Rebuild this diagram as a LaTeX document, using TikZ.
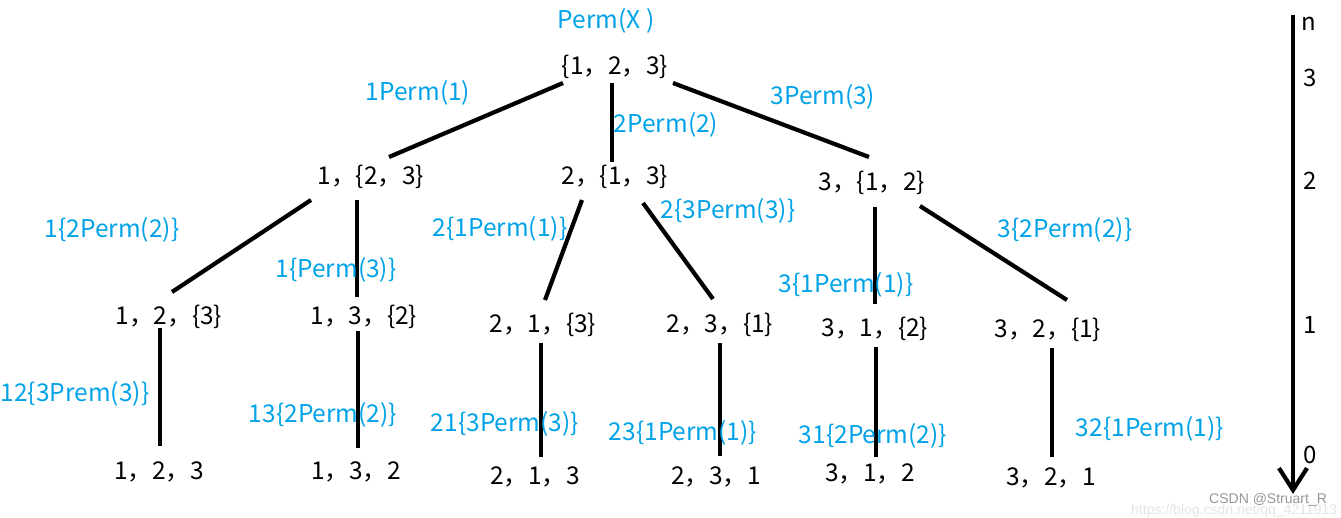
\documentclass[tikz,border=0pt]{standalone}
\usepackage{fontspec}
\setmainfont{Noto Sans CJK SC}
\newfontfamily\wmfont{Liberation Sans}
\usetikzlibrary{calc,arrows.meta}
\definecolor{lblue}{RGB}{0,162,232}
\definecolor{wmgray}{RGB}{150,150,150}
\definecolor{wmlight}{RGB}{228,228,228}
\tikzset{
  st/.style={inner sep=0pt, font=\fontsize{24.5}{26}\selectfont, text=black},
  lb/.style={inner sep=0pt, font=\fontsize{24.5}{26}\selectfont, text=lblue},
  ax/.style={inner sep=0pt, font=\fontsize{24}{26}\selectfont, text=black},
  edge/.style={line width=4.2pt, black, line cap=butt},
}
\begin{document}
\begin{tikzpicture}[x=1pt,y=-1pt]
\useasboundingbox (0,0) rectangle (1341,517);
% title
\node[lb] (title) at (606,21) {Perm(X )};
% states
\node[st] (r) at (615,67) {\{1，2，3\}};
\node[st] (a) at (371,177) {1，\{2，3\}};
\node[st] (b) at (615,177) {2，\{1，3\}};
\node[st] (c) at (872,183) {3，\{1，2\}};
\node[st] (aa) at (169,317) {1，2，\{3\}};
\node[st] (ab) at (364,317) {1，3，\{2\}};
\node[st] (ba) at (543,325) {2，1，\{3\}};
\node[st] (bb) at (720,325) {2，3，\{1\}};
\node[st] (ca) at (875,329) {3，1，\{2\}};
\node[st] (cb) at (1048,330) {3，2，\{1\}};
\node[st] (aaa) at (159,472) {1，2，3};
\node[st] (aba) at (356,472) {1，3，2};
\node[st] (baa) at (535,477) {2，1，3};
\node[st] (bba) at (716,477) {2，3，1};
\node[st] (caa) at (870,474) {3，1，2};
\node[st] (cba) at (1051,478) {3，2，1};
% edges
\draw[edge] ($(r)+(-52,16)$) -- ($(a)+(18,-20)$);
\draw[edge] ($(r)+(-3,16)$) -- ($(b)+(-3,-15)$);
\draw[edge] ($(r)+(58,16)$) -- ($(c)+(-3,-26)$);
\draw[edge] ($(a)+(-60,23)$) -- ($(aa)+(3,-25)$);
\draw[edge] ($(a)+(-14,23)$) -- ($(ab)+(-7,-20)$);
\draw[edge] ($(b)+(-33,23)$) -- ($(ba)+(2,-25)$);
\draw[edge] ($(b)+(28,26)$) -- ($(bb)+(-7,-26)$);
\draw[edge] ($(c)+(3,24)$) -- ($(ca)+(0,-25)$);
\draw[edge] ($(c)+(48,23)$) -- ($(cb)+(19,-30)$);
\draw[edge] ($(aa)+(-9,11)$) -- ($(aaa)+(1,-26)$);
\draw[edge] ($(ab)+(-6,14)$) -- ($(aba)+(2,-24)$);
\draw[edge] ($(ba)+(-2,18)$) -- ($(baa)+(6,-20)$);
\draw[edge] ($(bb)+(0,18)$) -- ($(bba)+(4,-21)$);
\draw[edge] ($(ca)+(1,18)$) -- ($(caa)+(6,-17)$);
\draw[edge] ($(cb)+(4,18)$) -- ($(cba)+(1,-21)$);
% labels
\node[lb] (l1) at (418,93) {1Perm(1)};
\node[lb] (l2) at (666,125) {2Perm(2)};
\node[lb] (l3) at (823,97) {3Perm(3)};
\node[lb] (l4) at (112,230) {1\{2Perm(2)\}};
\node[lb] (l5) at (336,270) {1\{Perm(3)\}};
\node[lb] (l6) at (500,229) {2\{1Perm(1)\}};
\node[lb] (l7) at (728,211) {2\{3Perm(3)\}};
\node[lb] (l8) at (846,285) {3\{1Perm(1)\}};
\node[lb] (l9) at (1065,230) {3\{2Perm(2)\}};
\node[lb] (l10) at (75,394) {12\{3Prem(3)\}};
\node[lb] (l11) at (323,415) {13\{2Perm(2)\}};
\node[lb] (l12) at (505,424) {21\{3Perm(3)\}};
\node[lb] (l13) at (683,433) {23\{1Perm(1)\}};
\node[lb] (l14) at (873,436) {31\{2Perm(2)\}};
\node[lb] (l15) at (1150,429) {32\{1Perm(1)\}};
% axis
\coordinate (axtop) at (1293,15);
\coordinate (axbot) at (1293,494);
\draw[line width=4.2pt, -{Straight Barb[length=22pt,width=28pt]}] (axtop) -- (axbot);
\node[ax] (n) at (1309,24) {n};
\node[ax] (n3) at (1310,78) {3};
\node[ax] (n2) at (1310,181) {2};
\node[ax] (n1) at (1310,325) {1};
\node[ax] (n0) at (1310,455) {0};
% watermark
\node[inner sep=0pt, anchor=west, text=wmlight, font=\wmfont\fontsize{14}{16}\selectfont] (url) at (1131,511) {https://blog.csdn.net/qq\_4211913};
\node[inner sep=0pt, anchor=west, text=wmgray, font=\wmfont\fontsize{14}{16}\selectfont] (wm) at (1209,500) {CSDN @Struart\_R};
\end{tikzpicture}
\end{document}
